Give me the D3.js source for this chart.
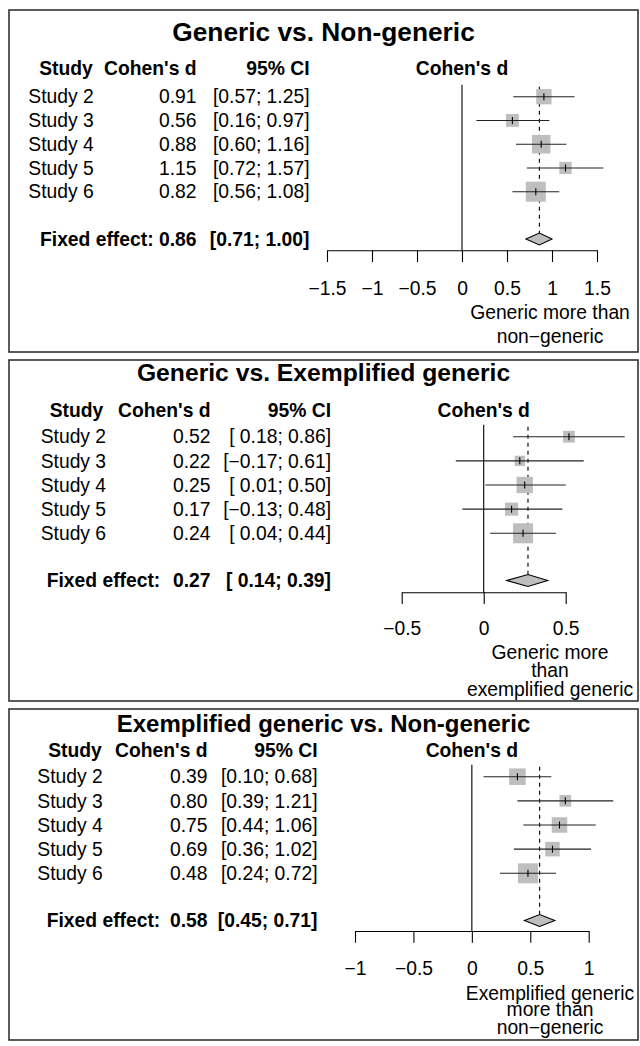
<!DOCTYPE html>
<html>
<head>
<meta charset="utf-8">
<script src="https://cdn.jsdelivr.net/npm/d3@7"></script>
<style>
  body { margin: 0; background: #fff; }
  svg text { font-family: "Liberation Sans", Arial, Helvetica, sans-serif; fill: #000; }
</style>
</head>
<body>
<svg id="main" width="640" height="1046"></svg>
<script>
// data
var studies = ["Study 2", "Study 3", "Study 4", "Study 5", "Study 6"]
var titles = ["Generic vs. Non-generic", "Generic vs. Exemplified generic", "Exemplified generic vs. Non-generic"]

var estA = [0.91, 0.56, 0.88, 1.15, 0.82]
var lowA = [0.57, 0.16, 0.60, 0.72, 0.56]
var highA = [1.25, 0.97, 1.16, 1.57, 1.08]
var fixedA = [0.86, 0.71, 1.00]

var estB = [0.52, 0.22, 0.25, 0.17, 0.24]
var lowB = [0.18, -0.17, 0.01, -0.13, 0.04]
var highB = [0.86, 0.61, 0.50, 0.48, 0.44]
var fixedB = [0.27, 0.14, 0.39]

var estC = [0.39, 0.80, 0.75, 0.69, 0.48]
var lowC = [0.10, 0.39, 0.44, 0.36, 0.24]
var highC = [0.68, 1.21, 1.06, 1.02, 0.72]
var fixedC = [0.58, 0.45, 0.71]

var ticksA = [-1.5, -1, -0.5, 0, 0.5, 1, 1.5]
var ticksB = [-0.5, 0, 0.5]
var ticksC = [-1, -0.5, 0, 0.5, 1]

var labelA = ["Generic more than", "non\u2212generic"]
var labelB = ["Generic more", "than", "exemplified generic"]
var labelC = ["Exemplified generic", "more than", "non\u2212generic"]

var headers = ["Study", "Cohen's d", "95% CI"]

// layout of each panel (pixel positions only)
var panels = [
    { est: estA, low: lowA, high: highA, fixed: fixedA, ticks: ticksA, label: labelA,
      top: 10, height: 342, titleY: 32, titleFs: 26.3, headY: 68, row1: 96.7, row5: 191.7, fixedY: 239,
      axisY: 250.3, tickLabY: 288, labYs: [312.7, 336],
      studyX: 28.3, studyHdrEnd: 92.7, fixedX: 40, col2: 196.5, col3: 309.5,
      range: [327, 597] },
    { est: estB, low: lowB, high: highB, fixed: fixedB, ticks: ticksB, label: labelB,
      top: 360, height: 341, titleY: 372.3, titleFs: 24.7, headY: 410, row1: 436.7, row5: 533.3, fixedY: 580.5,
      axisY: 592.3, tickLabY: 628, labYs: [652.7, 670.5, 689],
      studyX: 40.7, studyHdrEnd: 103.3, fixedX: 46.7, col2: 210.5, col3: 331,
      range: [401.7, 565.7] },
    { est: estC, low: lowC, high: highC, fixed: fixedC, ticks: ticksC, label: labelC,
      top: 709, height: 331, titleY: 723.3, titleFs: 24, headY: 750.7, row1: 776.7, row5: 873.3, fixedY: 920.5,
      axisY: 931, tickLabY: 968, labYs: [993, 1009.5, 1027],
      studyX: 37.3, studyHdrEnd: 101.7, fixedX: 46.7, col2: 207.5, col3: 317.5,
      range: [355, 588.7] }
]

var fs = 19.3
var svg = d3.select('#main')
var f2 = d3.format(".2f")

panels.forEach(function(p, k) {
    var g = svg.append('g')
    var ext = d3.extent(p.ticks)
    var x = d3.scaleLinear().domain(ext).range(p.range)
    var y = d3.scaleLinear().domain([0, studies.length - 1]).range([p.row1, p.row5])
    var pad = d3.min(p.low) < 0 ? " " : ""
    function fmt(v) { return (v < 0 ? "" : pad) + f2(v) }
    function ci(lo, hi) { return "[" + fmt(lo) + "; " + f2(hi) + "]" }

    // weights from the CI width, square side ~ sqrt(weight)
    var w = p.low.map(function(lo, i) { var se = (p.high[i] - lo) / 3.92; return 1 / (se * se) })
    var size = d3.scaleSqrt().domain([0, d3.max(w)]).range([0, 20])

    g.append('rect')
        .attr('x', 9).attr('y', p.top)
        .attr('width', 629).attr('height', p.height)
        .attr('fill', 'none').attr('stroke', '#333').attr('stroke-width', 1.6)

    g.append('text')
        .attr('x', 323.5).attr('y', p.titleY).attr('dy', '0.35em')
        .attr('text-anchor', 'middle')
        .style('font-size', p.titleFs + 'px').style('font-weight', 'bold')
        .text(titles[k])

    // column headers
    var hx = [p.studyHdrEnd, p.col2, p.col3]
    g.selectAll('.hdr').data(headers).enter().append('text')
        .attr('x', function(_, i) { return hx[i] })
        .attr('y', p.headY).attr('dy', '0.35em')
        .attr('text-anchor', 'end')
        .style('font-size', fs + 'px').style('font-weight', 'bold')
        .text(function(d) { return d })
    g.append('text')
        .attr('x', x((ext[0] + ext[1]) / 2)).attr('y', p.headY).attr('dy', '0.35em')
        .attr('text-anchor', 'middle')
        .style('font-size', fs + 'px').style('font-weight', 'bold')
        .text("Cohen's d")

    // study rows text
    studies.forEach(function(s, i) {
        g.append('text').attr('x', p.studyX).attr('y', y(i)).attr('dy', '0.35em')
            .style('font-size', fs + 'px').text(s)
        g.append('text').attr('x', p.col2).attr('y', y(i)).attr('dy', '0.35em')
            .attr('text-anchor', 'end').style('font-size', fs + 'px').text(f2(p.est[i]))
        g.append('text').attr('x', p.col3).attr('y', y(i)).attr('dy', '0.35em')
            .attr('text-anchor', 'end').style('font-size', fs + 'px').text(ci(p.low[i], p.high[i]))
    })

    // fixed effect row
    g.append('text').attr('x', p.fixedX).attr('y', p.fixedY).attr('dy', '0.35em')
        .style('font-size', fs + 'px').style('font-weight', 'bold').text("Fixed effect:")
    g.append('text').attr('x', p.col2).attr('y', p.fixedY).attr('dy', '0.35em')
        .attr('text-anchor', 'end').style('font-size', fs + 'px').style('font-weight', 'bold')
        .text(f2(p.fixed[0]))
    g.append('text').attr('x', p.col3).attr('y', p.fixedY).attr('dy', '0.35em')
        .attr('text-anchor', 'end').style('font-size', fs + 'px').style('font-weight', 'bold')
        .text(ci(p.fixed[1], p.fixed[2]))

    // reference lines
    var dh = 6
    g.append('line')
        .attr('x1', x(0)).attr('x2', x(0))
        .attr('y1', p.row1 - 12).attr('y2', p.axisY)
        .attr('stroke', '#000').attr('stroke-width', 1.1)
    g.append('line')
        .attr('x1', x(p.fixed[0])).attr('x2', x(p.fixed[0]))
        .attr('y1', p.row1 - 10).attr('y2', p.fixedY - dh)
        .attr('stroke', '#000').attr('stroke-width', 1.1)
        .attr('stroke-dasharray', '4,4')

    // squares, CI lines, point ticks
    var rows = studies.map(function(s, i) { return { i: i, est: p.est[i], lo: p.low[i], hi: p.high[i], w: w[i] } })
    g.selectAll('.box').data(rows).enter().append('rect')
        .attr('x', function(d) { return x(d.est) - size(d.w) / 2 })
        .attr('y', function(d) { return y(d.i) - size(d.w) / 2 })
        .attr('width', function(d) { return size(d.w) })
        .attr('height', function(d) { return size(d.w) })
        .attr('fill', '#bebebe')
    g.selectAll('.ci').data(rows).enter().append('line')
        .attr('x1', function(d) { return x(d.lo) })
        .attr('x2', function(d) { return x(d.hi) })
        .attr('y1', function(d) { return y(d.i) })
        .attr('y2', function(d) { return y(d.i) })
        .attr('stroke', '#222').attr('stroke-width', 1.1)
    g.selectAll('.pt').data(rows).enter().append('line')
        .attr('x1', function(d) { return x(d.est) })
        .attr('x2', function(d) { return x(d.est) })
        .attr('y1', function(d) { return y(d.i) - 3.5 })
        .attr('y2', function(d) { return y(d.i) + 3.5 })
        .attr('stroke', '#000').attr('stroke-width', 1.1)

    // diamond
    var fy = p.fixedY
    g.append('path')
        .attr('d', 'M' + x(p.fixed[1]) + ',' + fy + 'L' + x(p.fixed[0]) + ',' + (fy - dh) +
                   'L' + x(p.fixed[2]) + ',' + fy + 'L' + x(p.fixed[0]) + ',' + (fy + dh) + 'Z')
        .attr('fill', '#bebebe').attr('stroke', '#000').attr('stroke-width', 1.1)

    // axis
    var ax = g.append('g')
        .attr('transform', 'translate(0,' + p.axisY + ')')
        .call(d3.axisBottom(x).tickValues(p.ticks).tickSize(11.7).tickSizeOuter(0).tickFormat(d3.format("")))
    ax.select('.domain').attr('stroke', '#000').attr('stroke-width', 1.1)
    ax.selectAll('.tick line').attr('stroke', '#000').attr('stroke-width', 1.1)
    ax.selectAll('.tick text')
        .attr('y', p.tickLabY - p.axisY).attr('dy', '0.35em')
        .style('font-size', fs + 'px')
        .style('font-family', '"Liberation Sans", Arial, Helvetica, sans-serif')

    g.selectAll('.lab').data(p.label).enter().append('text')
        .attr('x', 550).attr('y', function(_, i) { return p.labYs[i] }).attr('dy', '0.35em')
        .attr('text-anchor', 'middle').style('font-size', fs + 'px')
        .text(function(d) { return d })
})
</script>
</body>
</html>
